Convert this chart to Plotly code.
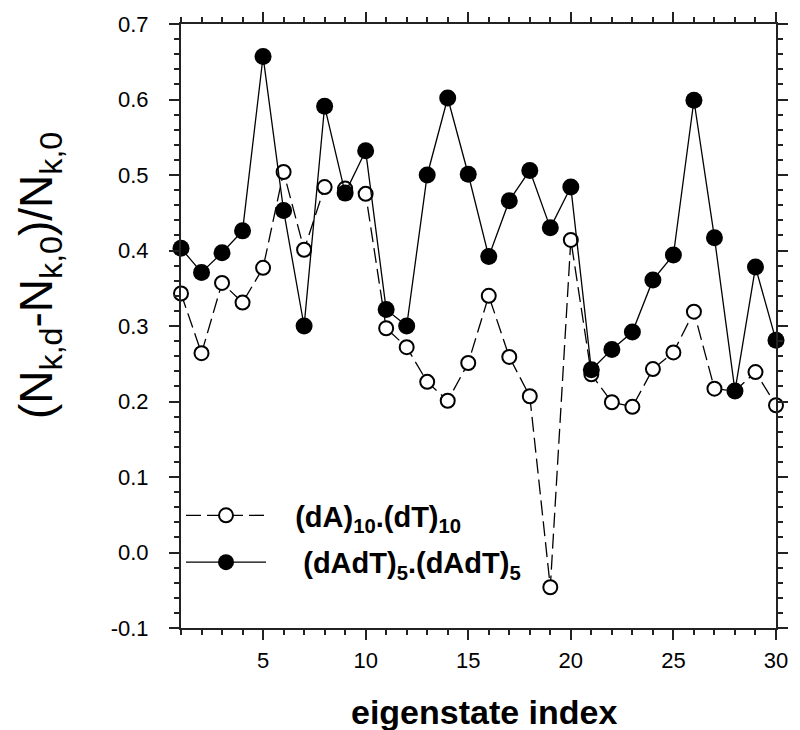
import plotly.graph_objects as go

idx = list(range(1, 31))
open_vals = [0.343, 0.264, 0.357, 0.331, 0.377, 0.504, 0.401, 0.484, 0.482, 0.475,
             0.297, 0.272, 0.226, 0.201, 0.251, 0.340, 0.259, 0.207, -0.046, 0.414,
             0.236, 0.199, 0.193, 0.243, 0.265, 0.319, 0.217, 0.214, 0.239, 0.195]
filled_vals = [0.403, 0.371, 0.397, 0.426, 0.657, 0.453, 0.300, 0.591, 0.476, 0.532,
               0.322, 0.300, 0.500, 0.602, 0.501, 0.392, 0.466, 0.506, 0.430, 0.484,
               0.242, 0.269, 0.292, 0.361, 0.394, 0.599, 0.417, 0.214, 0.378, 0.281]
open_name = "\u00a0\u00a0\u00a0(dA)<sub>10</sub>.(dT)<sub>10</sub>"
filled_name = "\u00a0\u00a0\u00a0\u00a0(dAdT)<sub>5</sub>.(dAdT)<sub>5</sub>"
x_tickvals = [5, 10, 15, 20, 25, 30]
x_ticktext = ["5", "10", "15", "20", "25", "30"]
y_tickvals = [-0.1, 0.0, 0.1, 0.2, 0.3, 0.4, 0.5, 0.6, 0.7]
y_ticktext = ["-0.1", "0.0", "0.1", "0.2", "0.3", "0.4", "0.5", "0.6", "0.7"]
x_title = "eigenstate index"
y_title = "(N<sub>k,d</sub>-N<sub>k,0</sub>)/N<sub>k,0</sub>"

fig = go.Figure()
fig.add_trace(go.Scatter(
    x=idx, y=open_vals, name=open_name, mode="lines+markers", cliponaxis=False,
    line=dict(color="black", width=1.3, dash="15px,6px"),
    marker=dict(symbol="circle", size=14, color="white", line=dict(color="black", width=2)),
    legend="legend",
))
fig.add_trace(go.Scatter(
    x=idx, y=filled_vals, name=filled_name, mode="lines+markers", cliponaxis=False,
    line=dict(color="black", width=1.3),
    marker=dict(symbol="circle", size=17, color="black", line=dict(color="black", width=0)),
    legend="legend2",
))

axis_common = dict(
    showline=True, linewidth=2, linecolor="#222", mirror="allticks",
    ticks="outside", ticklen=10, tickwidth=1.5, tickcolor="#222",
    showgrid=False, zeroline=False,
    tickfont=dict(family="Liberation Sans, Arial", size=22, color="black"),
)
fig.update_xaxes(
    range=[1, 30], tickmode="array", tickvals=x_tickvals, ticktext=x_ticktext,
    minor=dict(ticks="outside", ticklen=5, tickwidth=1.5, tickcolor="#222", dtick=1, tick0=0, showgrid=False),
    ticklabelstandoff=2, **axis_common,
)
fig.update_yaxes(
    range=[-0.1, 0.7], tickmode="array", tickvals=y_tickvals, ticktext=y_ticktext,
    minor=dict(ticks="outside", ticklen=5, tickwidth=1.5, tickcolor="#222", dtick=0.02, tick0=0, showgrid=False),
    ticklabelstandoff=16, **axis_common,
)

legend_common = dict(
    xanchor="left", yanchor="middle", bgcolor="rgba(0,0,0,0)", borderwidth=0,
    itemwidth=80, font=dict(family="Liberation Sans, Arial", size=29, color="black", weight="bold"),
)
fig.update_layout(
    width=800, height=730,
    margin=dict(l=181, r=13, t=22, b=102),
    paper_bgcolor="white", plot_bgcolor="white",
    showlegend=True,
    legend=dict(x=0.0, y=0.1863, **legend_common),
    legend2=dict(x=0.0, y=0.1088, **legend_common),
    annotations=[
        dict(text=y_title, xref="paper", yref="paper", x=-0.2377, y=0.5837,
             xanchor="center", yanchor="middle", textangle=-90, showarrow=False,
             font=dict(family="Liberation Sans, Arial", size=46, color="black")),
        dict(text="<b>" + x_title + "</b>", xref="paper", yref="paper", x=0.51, y=-0.1385,
             xanchor="center", yanchor="middle", showarrow=False,
             font=dict(family="Liberation Sans, Arial", size=34, color="black")),
    ],
)
fig.write_html("out.html")
